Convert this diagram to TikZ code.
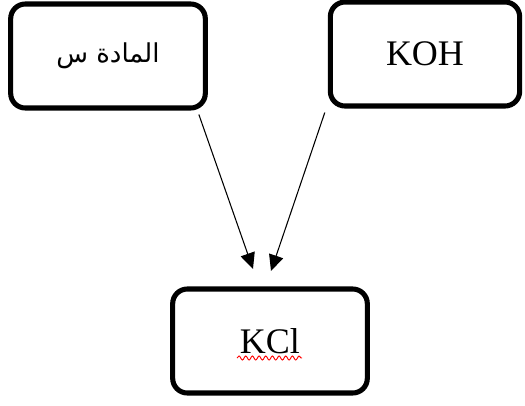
\documentclass[tikz,border=0pt]{standalone}
\usepackage{fontspec}
\setmainfont{Liberation Serif}
\newfontfamily\arabicfont[Script=Arabic]{DejaVu Sans}
\TeXXeTstate=1
\usetikzlibrary{arrows.meta, decorations.pathmorphing}

\begin{document}
\begin{tikzpicture}[
        x=0.75pt, y=-0.75pt,
        box/.style={rectangle, draw, line width=3.8pt, rounded corners=11pt,
            minimum width=146pt, minimum height=78pt, font=\fontsize{27}{30}\selectfont},
        link/.style={-{Triangle[length=12pt, width=11pt]}, line width=0.8pt}
    ]
        \useasboundingbox (0,0) rectangle (525,405);

        \node[box] (s) at (108,56) {\arabicfont\fontsize{19.5}{22}\selectfont\beginR المادة س\endR};
        \node[box, minimum width=142pt] (koh) at (425,54) {KOH};
        \node[box] (kcl) at (270,341) {KCl};

        \coordinate (tipS) at (253,269);
        \coordinate (tipK) at (271,271);

        \draw[link] ([shift={(-9,4)}]s.south east) -- (tipS);
        \draw[link] ([shift={(-3,4)}]koh.south west) -- (tipK);

        % red wavy line under the text
        \draw[red, line width=0.7pt, decorate,
            decoration={snake, amplitude=1.5pt, segment length=5pt}]
            ([shift={(-33,17)}]kcl.center) -- ([shift={(32,17)}]kcl.center);
    \end{tikzpicture}
\end{document}
